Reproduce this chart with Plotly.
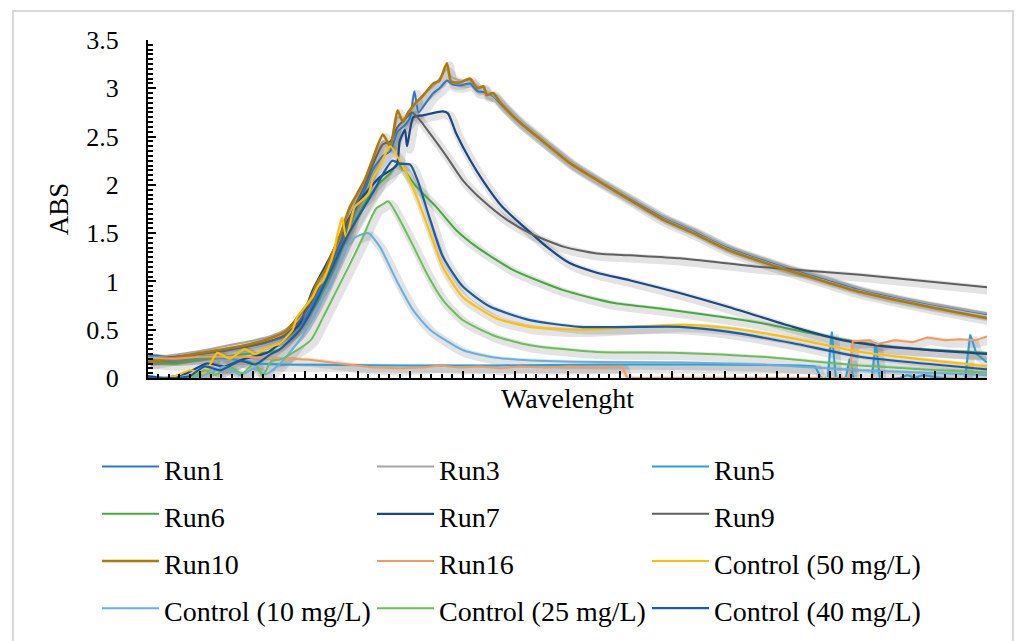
import plotly.graph_objects as go

W, H = 1019, 641
ML, MR, MT, MB = 148, 32, 40, 263
PW, PH = W - ML - MR, H - MT - MB


def px_x(p):
    return (p - ML) / PW


def px_y(p):
    return (H - MB - p) / PH


FONT = "Liberation Serif"

# ---------------- data (x = wavelength position, y = ABS) ----------------
run1_x = [0, 26, 50, 73, 97, 116, 131, 145, 154, 162, 169, 176, 184, 192, 199, 207, 214, 224, 231, 238,
          245, 250, 254, 258, 265, 272, 278, 285, 290, 298, 307, 314, 320, 329, 336, 352, 371, 403, 428, 460,
          491, 520, 552, 600, 648, 679, 743, 800]
run1_y = [0.24, 0.22, 0.25, 0.28, 0.33, 0.38, 0.43, 0.55, 0.70, 0.88, 1.00, 1.18, 1.38, 1.60, 1.78, 1.95, 2.15, 2.30, 2.35, 2.55,
          2.62, 2.70, 2.97, 2.75, 2.85, 2.95, 3.00, 3.08, 3.04, 3.03, 3.05, 2.97, 2.96, 2.92, 2.84, 2.67, 2.50, 2.23, 2.06, 1.86,
          1.67, 1.53, 1.36, 1.18, 1.02, 0.92, 0.77, 0.66]

run10_x = [0, 26, 50, 73, 97, 116, 131, 145, 154, 162, 169, 176, 184, 192, 199, 207, 214, 224, 231, 238,
           243, 248, 256, 262, 272, 278, 285, 289, 298, 307, 314, 320, 323, 329, 336, 352, 371, 403, 428, 460,
           491, 520, 552, 600, 648, 679, 743, 800]
run10_y = [0.16, 0.21, 0.26, 0.30, 0.35, 0.41, 0.48, 0.66, 0.80, 1.00, 1.12, 1.30, 1.50, 1.76, 1.90, 2.06, 2.26, 2.52, 2.40, 2.77,
           2.65, 2.75, 2.86, 2.92, 3.05, 3.08, 3.26, 3.07, 3.06, 3.10, 3.00, 3.02, 2.93, 2.95, 2.85, 2.67, 2.50, 2.22, 2.05, 1.84,
           1.64, 1.50, 1.33, 1.15, 0.99, 0.89, 0.74, 0.62]

run3_x = run10_x
run3_y = [0.20, 0.24, 0.28, 0.33, 0.38, 0.43, 0.50, 0.64, 0.78, 0.96, 1.10, 1.28, 1.48, 1.72, 1.87, 2.03, 2.22, 2.45, 2.42, 2.70,
          2.68, 2.73, 2.84, 2.93, 3.02, 3.10, 3.20, 3.12, 3.08, 3.08, 3.02, 3.00, 2.96, 2.93, 2.86, 2.69, 2.52, 2.24, 2.07, 1.87,
          1.68, 1.54, 1.37, 1.19, 1.03, 0.93, 0.78, 0.67]

run5_x = [0, 26, 50, 78, 102, 126, 240, 336, 431, 526, 622, 636, 643, 648, 652, 656, 665, 669, 673, 690,
          694, 698, 717, 724, 731, 739, 755, 779, 784, 790, 800]
run5_y = [0.22, 0.20, 0.22, 0.20, 0.15, 0.14, 0.13, 0.13, 0.14, 0.14, 0.13, 0.12, -0.02, -0.02, 0.48, -0.02, -0.02, 0.20, -0.02, -0.02,
          0.37, -0.02, 0.0, 0.03, 0.0, 0.03, 0.0, -0.02, 0.45, 0.25, 0.16]

run6_x = [0, 26, 50, 73, 97, 116, 126, 145, 164, 183, 197, 212, 221, 231, 238, 256, 275, 294, 313, 348,
          396, 443, 488, 584, 647, 710, 800]
run6_y = [0.18, 0.15, 0.20, 0.22, 0.25, 0.27, 0.30, 0.50, 0.85, 1.30, 1.62, 1.90, 2.02, 2.12, 2.22, 1.98, 1.77, 1.53, 1.36, 1.12,
          0.91, 0.78, 0.72, 0.57, 0.43, 0.32, 0.26]

run7_x = [0, 16, 37, 56, 73, 92, 113, 126, 145, 157, 174, 189, 205, 221, 237, 240, 245, 247, 253, 262,
          281, 286, 294, 307, 319, 338, 358, 380, 402, 428, 460, 507, 552, 615, 663, 710, 800]
run7_y = [0.02, 0.00, 0.05, 0.15, 0.12, 0.20, 0.26, 0.36, 0.57, 0.91, 1.26, 1.60, 1.88, 2.08, 2.20, 2.45, 2.57, 2.40, 2.70, 2.72,
          2.76, 2.74, 2.53, 2.26, 2.05, 1.77, 1.57, 1.36, 1.19, 1.09, 1.01, 0.88, 0.74, 0.53, 0.39, 0.32, 0.25]

run9_x = [0, 26, 50, 73, 97, 116, 131, 145, 154, 162, 169, 176, 184, 192, 199, 207, 214, 224, 231, 238,
          245, 252, 260, 269, 285, 300, 319, 342, 364, 396, 428, 460, 507, 584, 679, 800]
run9_y = [0.20, 0.22, 0.25, 0.29, 0.33, 0.38, 0.45, 0.60, 0.75, 0.92, 1.05, 1.22, 1.42, 1.65, 1.82, 2.00, 2.20, 2.42, 2.45, 2.60,
          2.68, 2.75, 2.66, 2.53, 2.29, 2.05, 1.84, 1.64, 1.50, 1.36, 1.29, 1.27, 1.24, 1.15, 1.07, 0.94]

run16_x = [0, 26, 50, 88, 135, 154, 183, 215, 240, 262, 278, 297, 316, 336, 355, 379, 402, 431, 452, 457,
           669, 672, 688, 695, 712, 729, 743, 760, 774, 789, 800]
run16_y = [0.21, 0.20, 0.22, 0.22, 0.20, 0.19, 0.15, 0.11, 0.10, 0.11, 0.13, 0.11, 0.12, 0.10, 0.12, 0.11, 0.12, 0.11, 0.12, 0.0,
           0.0, 0.38, 0.39, 0.35, 0.39, 0.37, 0.42, 0.39, 0.40, 0.39, 0.43]

c50_x = [0, 11, 26, 40, 54, 66, 78, 92, 102, 113, 126, 138, 142, 150, 157, 162, 167, 176, 185, 189,
         197, 204, 210, 215, 221, 228, 231, 243, 256, 269, 281, 300, 332, 364, 412, 507, 552, 615, 679, 800]
c50_y = [0.0, 0.0, 0.02, 0.08, 0.05, 0.26, 0.20, 0.30, 0.25, 0.31, 0.36, 0.50, 0.63, 0.74, 0.84, 0.95, 1.01, 1.26, 1.66, 1.45,
         1.77, 1.84, 1.90, 2.08, 2.19, 2.36, 2.40, 2.19, 1.88, 1.50, 1.15, 0.84, 0.62, 0.53, 0.50, 0.55, 0.52, 0.41, 0.27, 0.12]

c10_x = [0, 40, 59, 73, 88, 102, 112, 126, 145, 157, 169, 181, 193, 202, 210, 221, 237, 253, 269, 300,
         332, 396, 507, 584, 679, 800]
c10_y = [0.0, 0.0, 0.05, 0.12, 0.03, 0.10, 0.04, 0.15, 0.40, 0.62, 0.88, 1.15, 1.42, 1.48, 1.50, 1.36, 1.01, 0.70, 0.50, 0.29,
         0.21, 0.17, 0.16, 0.14, 0.08, 0.03]

c25_x = [0, 40, 54, 64, 76, 90, 102, 109, 118, 126, 155, 167, 180, 193, 205, 212, 218, 224, 229, 250,
         266, 281, 300, 332, 364, 428, 507, 584, 679, 800]
c25_y = [0.0, 0.0, 0.08, 0.03, 0.12, 0.05, 0.16, 0.02, 0.18, 0.19, 0.39, 0.63, 0.91, 1.19, 1.46, 1.64, 1.76, 1.80, 1.83, 1.43,
         1.08, 0.81, 0.60, 0.43, 0.34, 0.27, 0.26, 0.22, 0.13, 0.055]

c40_x = [0, 26, 40, 54, 69, 88, 102, 116, 126, 145, 157, 174, 189, 205, 216, 226, 233, 240, 250, 257,
         269, 281, 300, 326, 364, 412, 507, 552, 615, 679, 800]
c40_y = [0.0, 0.0, 0.02, 0.12, 0.08, 0.18, 0.14, 0.24, 0.30, 0.50, 0.72, 1.10, 1.45, 1.75, 1.95, 2.15, 2.25, 2.22, 2.21, 2.05,
         1.64, 1.26, 0.95, 0.74, 0.60, 0.53, 0.53, 0.48, 0.36, 0.22, 0.09]

names = ["Run1", "Run3", "Run5", "Run6", "Run7", "Run9", "Run10", "Run16",
         "Control (50 mg/L)", "Control (10 mg/L)", "Control (25 mg/L)", "Control (40 mg/L)"]
xs_all = [run1_x, run3_x, run5_x, run6_x, run7_x, run9_x, run10_x, run16_x, c50_x, c10_x, c25_x, c40_x]
ys_all = [run1_y, run3_y, run5_y, run6_y, run7_y, run9_y, run10_y, run16_y, c50_y, c10_y, c25_y, c40_y]
colors = ["#2F77C6", "#A5A5A5", "#2A9FD8", "#44AA3C", "#1A4786", "#606060", "#AD7A08", "#F59A5E",
          "#FFC000", "#64B0E4", "#6BBF59", "#1C5CA6"]
widths = [2, 2, 2, 2, 2.2, 2, 2.6, 2, 2.2, 2, 2, 2.2]
shapes = ["spline"] * 12
shapes[2] = "linear"
shapes[7] = "linear"

fig = go.Figure()

# soft drop shadow under each line
for xs, ys, sh in zip(xs_all, ys_all, shapes):
    fig.add_trace(go.Scatter(
        x=[v + 2.5 for v in xs], y=[v - 0.03 for v in ys], mode="lines",
        line=dict(color="rgba(0,0,0,0.11)", width=9, shape=sh, smoothing=0.6),
        showlegend=False, hoverinfo="skip"))

for name, xs, ys, col, w, sh in zip(names, xs_all, ys_all, colors, widths, shapes):
    fig.add_trace(go.Scatter(
        x=xs, y=ys, mode="lines",
        name="<span style='font-size:28px'>%s</span>" % name,
        line=dict(color=col, width=w, shape=sh, smoothing=0.6)))

axis_font = dict(family=FONT, size=26, color="black")

fig.update_layout(
    width=W, height=H,
    margin=dict(l=ML, r=MR, t=MT, b=MB, pad=0, autoexpand=False),
    paper_bgcolor="white", plot_bgcolor="white",
    font=dict(family=FONT, color="black"),
    xaxis=dict(range=[0, 800], showgrid=False, zeroline=False, showline=True,
               linecolor="black", linewidth=2, ticks="inside", ticklen=7, tickwidth=2,
               tickcolor="black", tick0=0, dtick=50, showticklabels=False,
               minor=dict(ticks="inside", ticklen=4, tickwidth=1.5, tickcolor="black", dtick=10, showgrid=False),
               title=dict(text="Wavelenght", font=dict(family=FONT, size=28), standoff=9)),
    yaxis=dict(range=[0, 3.5], showgrid=False, zeroline=False, showline=True,
               linecolor="black", linewidth=2, ticks="inside", ticklen=8, tickwidth=2,
               tickcolor="black", tick0=0, dtick=0.5, tickfont=axis_font, ticklabelstandoff=22,
               minor=dict(ticks="inside", ticklen=5, tickwidth=1.5, tickcolor="black", dtick=0.05, showgrid=False),
               title=dict(text="ABS", font=dict(family=FONT, size=27), standoff=10)),
    legend=dict(orientation="h", x=px_x(97), xanchor="left", y=px_y(438), yanchor="top",
                font=dict(family=FONT, size=34, color="black"),
                itemwidth=57, entrywidth=203, entrywidthmode="pixels",
                bgcolor="rgba(0,0,0,0)", traceorder="normal"),
    shapes=[dict(type="rect", xref="paper", yref="paper",
                 x0=px_x(13), x1=px_x(1013), y0=px_y(700), y1=px_y(11),
                 line=dict(color="#D9D9D9", width=2), fillcolor="rgba(0,0,0,0)", layer="below")],
    showlegend=True,
)

fig.write_html("out.html")
